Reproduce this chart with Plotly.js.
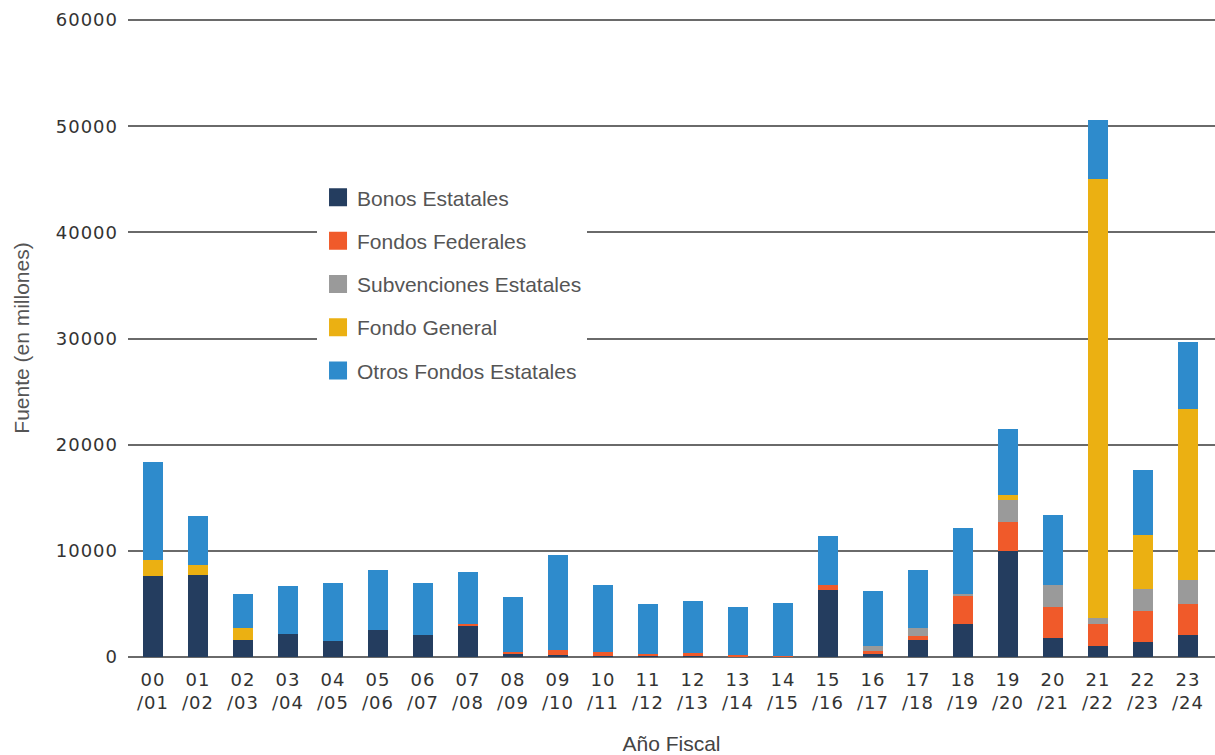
<!DOCTYPE html>
<html>
<head>
<meta charset="utf-8">
<script src="https://cdn.plot.ly/plotly-3.0.1.min.js"></script>
<style>
  html, body { margin: 0; padding: 0; background: #fff; }
  #chart { width: 1215px; height: 755px; }
  .xtick text, .ytick text { letter-spacing: 1px; }
  .legendpoints path { transform: translate(21px, 0px) scale(1.5); }
</style>
</head>
<body>
<div id="chart"></div>
<script>
const categories = ["00/01","01/02","02/03","03/04","04/05","05/06","06/07","07/08","08/09","09/10","10/11","11/12","12/13","13/14","14/15","15/16","16/17","17/18","18/19","19/20","20/21","21/22","22/23","23/24"];
const tickLabels = ["00<br>/01","01<br>/02","02<br>/03","03<br>/04","04<br>/05","05<br>/06","06<br>/07","07<br>/08","08<br>/09","09<br>/10","10<br>/11","11<br>/12","12<br>/13","13<br>/14","14<br>/15","15<br>/16","16<br>/17","17<br>/18","18<br>/19","19<br>/20","20<br>/21","21<br>/22","22<br>/23","23<br>/24"];
const yTickValues = [0, 10000, 20000, 30000, 40000, 50000, 60000];
const yTickLabels = ["0", "10000", "20000", "30000", "40000", "50000", "60000"];

const bonosEstatales       = [7600, 7750, 1630, 2130, 1500, 2570, 2100, 2880, 350, 150, 100, 80, 80, 30, 20, 6300, 310, 1570, 3140, 9950, 1820, 1000, 1410, 2070];
const fondosFederales      = [0, 0, 0, 0, 0, 0, 0, 200, 150, 470, 340, 230, 300, 120, 100, 510, 220, 430, 2570, 2730, 2890, 2140, 2890, 2950];
const subvencionesEstatales= [0, 0, 0, 0, 0, 0, 0, 0, 0, 0, 0, 0, 0, 0, 0, 0, 470, 700, 250, 2070, 2040, 560, 2100, 2260];
const fondoGeneral         = [1550, 880, 1070, 0, 0, 0, 0, 0, 0, 0, 0, 0, 0, 0, 0, 0, 0, 0, 0, 540, 0, 41320, 5090, 16080];
const otrosFondosEstatales = [9250, 4610, 3230, 4520, 5470, 5590, 4870, 4920, 5180, 9020, 6310, 4650, 4890, 4520, 4990, 4550, 5215, 5490, 6190, 6150, 6620, 5520, 6150, 6310];

const seriesNames  = ["Bonos Estatales", "Fondos Federales", "Subvenciones Estatales", "Fondo General", "Otros Fondos Estatales"];
const seriesValues = [bonosEstatales, fondosFederales, subvencionesEstatales, fondoGeneral, otrosFondosEstatales];
const seriesColors = ["#243d5f", "#f05a2a", "#9a9a9a", "#ebb012", "#2e8bcc"];

const traces = seriesNames.map((name, i) => ({
  type: "bar",
  name: name,
  x: categories,
  y: seriesValues[i],
  marker: { color: seriesColors[i], line: { width: 0 } },
  legendgroup: "g" + i,
  hoverinfo: "x+y+name"
}));

const axisFont = { family: "DejaVu Sans, sans-serif", size: 18, color: "#333333" };
const textFamily = "Liberation Sans, Arial, sans-serif";

const layout = {
  width: 1215,
  height: 755,
  margin: { l: 128, r: 0, t: 19, b: 98, pad: 0 },
  paper_bgcolor: "#ffffff",
  plot_bgcolor: "#ffffff",
  barmode: "stack",
  bargap: 0.56,
  showlegend: true,
  legend: {
    x: 0.1739, xanchor: "left",
    y: 0.752, yanchor: "top",
    bgcolor: "#ffffff",
    borderwidth: 0,
    traceorder: "grouped",
    tracegroupgap: 13,
    font: { family: textFamily, size: 21, color: "#555555" }
  },
  xaxis: {
    type: "category",
    tickmode: "array",
    tickvals: categories,
    ticktext: tickLabels,
    range: [-0.555, 23.6],
    showgrid: false,
    showline: false,
    zeroline: false,
    ticks: "",
    ticklabelstandoff: 10,
    tickfont: axisFont,
    title: { text: "Año Fiscal", font: { family: textFamily, size: 21, color: "#444444" }, standoff: 24 },
    fixedrange: true
  },
  yaxis: {
    range: [0, 60100],
    tickmode: "array",
    tickvals: yTickValues,
    ticktext: yTickLabels,
    showgrid: true,
    gridcolor: "#6a6a6a",
    gridwidth: 2,
    zeroline: true,
    zerolinecolor: "#6a6a6a",
    zerolinewidth: 2,
    showline: false,
    ticks: "",
    ticklabelstandoff: 9,
    tickfont: axisFont,
    title: { text: "Fuente (en millones)", font: { family: textFamily, size: 21, color: "#555555" }, standoff: 20 },
    fixedrange: true
  }
};

Plotly.newPlot("chart", traces, layout, { displayModeBar: false });
</script>
</body>
</html>
